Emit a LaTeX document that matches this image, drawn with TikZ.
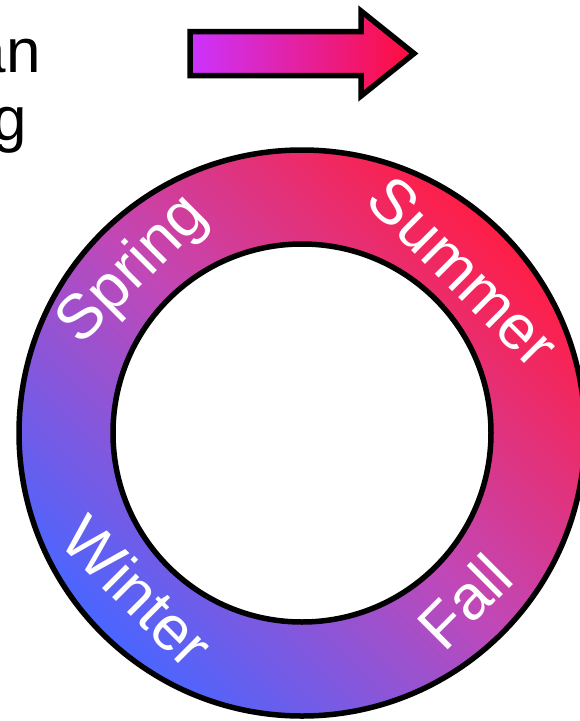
\documentclass[tikz,border=0pt]{standalone}
\usepackage{fontspec}
\setmainfont{Liberation Sans}
\usetikzlibrary{calc}
\definecolor{ringblue}{HTML}{4A66FF}
\definecolor{ringmid}{HTML}{C048B8}
\definecolor{ringred}{HTML}{FF1E46}
\definecolor{arrowl}{HTML}{CB33FF}
\definecolor{arrowr}{HTML}{FF0D3A}
\begin{document}
\begin{tikzpicture}[x=1pt,y=-1pt,
  season/.style={text=white, font=\fontsize{63}{63}\selectfont, inner sep=0pt},
  titletext/.style={font=\fontsize{62}{68}\selectfont, inner sep=0pt},
  outline/.style={draw=black, line width=5.5pt}]
\useasboundingbox (0,0) rectangle (580,721);
\coordinate (c) at (302,433);
% ring
\shade[even odd rule, outline, bottom color=ringblue, top color=ringred, middle color=ringmid, shading angle=-45]
  (c) circle[radius=283pt] (c) circle[radius=189pt];
% arrow
\shade[outline, line join=miter, left color=arrowl, right color=arrowr]
  (190,31.5) -- (361,31.5) -- (361,11) -- (414,53.5) -- (361,96) -- (361,75.5) -- (190,75.5) -- cycle;
% season labels
\node[season, rotate=45]  (spring) at ($(c)+(136:234pt)$) {Spring};
\node[season, rotate=-45] (summer) at ($(c)+(45:228pt)$) {Summer};
\node[season, rotate=45]  (fall)   at ($(c)+(-46:234pt)$) {Fall};
\node[season, rotate=-45] (winter) at ($(c)+(-136:228pt)$) {Winter};
% cut-off title text
\node[titletext, anchor=base east] (t1) at (41,72) {an};
\node[titletext, anchor=base east] (t2) at (27,140) {g};
\end{tikzpicture}
\end{document}
